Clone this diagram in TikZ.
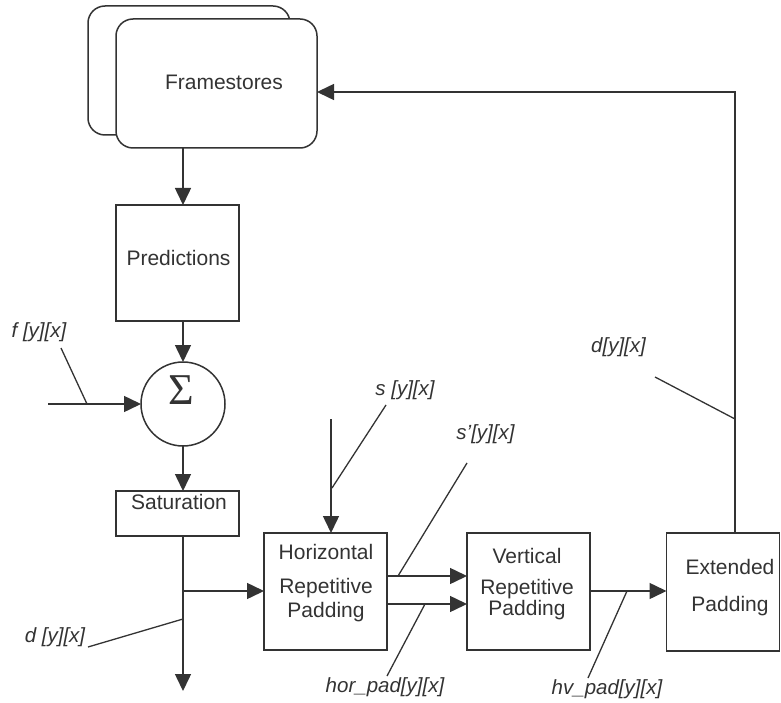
\documentclass[tikz,border=0pt]{standalone}
\usepackage{fontspec}
\setmainfont{Liberation Sans}
\newfontfamily\sigmafont{Liberation Serif}
\usetikzlibrary{arrows.meta}
\definecolor{ink}{HTML}{333333}
\begin{document}
\begin{tikzpicture}[x=1pt,y=-1pt,line width=1.5pt,color=ink,
  box/.style={draw,rectangle,inner sep=0pt,outer sep=0pt,fill=white},
  rbox/.style={box,rounded corners=17pt},
  txt/.style={inner sep=0pt,text=ink,font=\fontsize{21}{24}\selectfont},
  lbl/.style={txt,font=\fontsize{20.5}{24}\selectfont\itshape},
  arr/.style={-{Triangle[length=17pt,width=16pt]}}]
\useasboundingbox (0,0) rectangle (781,703);

% framestore stack
\node[rbox,minimum width=202pt,minimum height=129pt] (fsback) at (189,70.5) {};
\node[rbox,minimum width=201pt,minimum height=129pt] (fs) at (216.5,83.5) {};
\node[txt] (fstxt) at (224,82) {Framestores};

% prediction, summation and saturation column
\coordinate (col) at (183,0);
\node[box,minimum width=123pt,minimum height=116pt] (pred) at (177.5,263) {};
\node[txt] (predtxt) at (178.5,258) {Predictions};
\node[draw,circle,minimum size=84pt,inner sep=0pt,outer sep=0pt] (sum) at (183,404) {};
\node[inner sep=0pt,text=ink,font=\sigmafont\fontsize{44}{44}\selectfont] (sig) at (181,390) {Σ};
\node[box,minimum width=123pt,minimum height=45pt] (sat) at (177.5,513.5) {};
\node[txt] (sattxt) at (179,502) {Saturation};

% padding stages
\node[box,minimum width=123pt,minimum height=117pt] (hrp) at (325.5,591.5) {};
\node[txt] (hrp1) at (326,552) {Horizontal};
\node[txt] (hrp2) at (326,588) {Repetitive};
\node[txt] (hrp3) at (326,612) {Padding};
\node[box,minimum width=123pt,minimum height=117pt] (vrp) at (528.5,591.5) {};
\node[txt] (vrp1) at (527,556) {Vertical};
\node[txt] (vrp2) at (527,589) {Repetitive};
\node[txt] (vrp3) at (527,610) {Padding};
\node[box,minimum width=113pt,minimum height=118pt] (ext) at (723,592) {};
\node[txt] (ext1) at (730,567) {Extended};
\node[txt] (ext2) at (730,606) {Padding};

% main flow
\draw[arr] (fs.south -| col) -- (pred.north -| col);
\draw[arr] (pred.south -| col) -- (sum.north);
\draw[arr] (sum.south) -- (sat.north -| col);
\coordinate (fin) at (48,404);
\draw[arr] (fin) -- (sum.west);
\coordinate (dend) at (183,691);
\draw[arr] (sat.south -| col) -- (dend);
\coordinate (br) at (183,591);
\draw[arr] (br) -- (hrp.west |- br);
\coordinate (sin) at (331,419);
\draw[arr] (sin) -- (hrp.north -| sin);
\coordinate (up) at (0,576);
\coordinate (lo) at (0,604);
\draw[arr] (hrp.east |- up) -- (vrp.west |- up);
\draw[arr] (hrp.east |- lo) -- (vrp.west |- lo);
\coordinate (mid) at (0,591);
\draw[arr] (vrp.east |- mid) -- (ext.west |- mid);
\coordinate (fb) at (735,92);
\draw[arr] (ext.north -| fb) -- (fb) -- (fs.east |- fb);

% signal name pointers
\coordinate (ft1) at (61,348);  \coordinate (ft2) at (87,404);
\coordinate (dt1) at (88,647);  \coordinate (dt2) at (183,619);
\coordinate (st1) at (386,405); \coordinate (st2) at (332,488);
\coordinate (sp1) at (467,463); \coordinate (sp2) at (398,576);
\coordinate (hp1) at (387,676); \coordinate (hp2) at (425,604);
\coordinate (hv1) at (588,678); \coordinate (hv2) at (627,591);
\coordinate (du1) at (655,377); \coordinate (du2) at (735,419);
\draw[line width=1.3pt] (ft1) -- (ft2);
\draw[line width=1.3pt] (dt1) -- (dt2);
\draw[line width=1.3pt] (st1) -- (st2);
\draw[line width=1.3pt] (sp1) -- (sp2);
\draw[line width=1.3pt] (hp1) -- (hp2);
\draw[line width=1.3pt] (hv1) -- (hv2);
\draw[line width=1.3pt] (du1) -- (du2);

% signal names
\node[lbl] (flbl) at (39,332) {f [y][x]};
\node[lbl] (dlbl) at (55,637) {d [y][x]};
\node[lbl] (slbl) at (405,390) {s [y][x]};
\node[lbl] (splbl) at (485.5,434) {s'[y][x]};
\node[lbl] (hplbl) at (385,687) {hor\_pad[y][x]};
\node[lbl] (hvlbl) at (607,689) {hv\_pad[y][x]};
\node[lbl] (dulbl) at (618.5,347) {d[y][x]};
\end{tikzpicture}
\end{document}
